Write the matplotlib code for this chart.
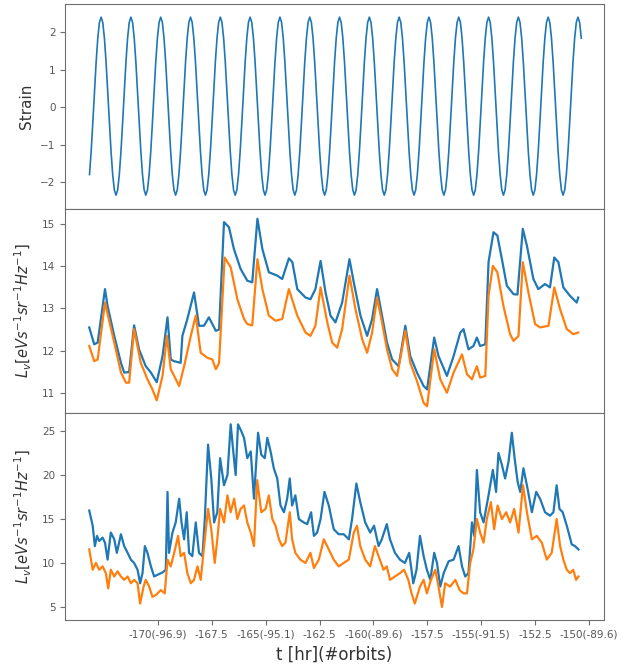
import matplotlib.pyplot as plt
import numpy as np

# strain, sampled every 0.0768 hr starting at t = -173.168
strain = [
    -1.80, -1.18, -0.41, 0.42, 1.2, 1.84, 2.26, 2.4, 2.26, 1.84, 1.2, 0.42, -0.41, -1.18, -1.80, -2.21, -2.35, -2.21,
    -1.80, -1.18, -0.41, 0.42, 1.2, 1.84, 2.26, 2.4, 2.26, 1.84, 1.2, 0.42, -0.41, -1.18, -1.80, -2.21, -2.35, -2.21,
    -1.80, -1.18, -0.41, 0.42, 1.2, 1.84, 2.26, 2.4, 2.26, 1.84, 1.2, 0.42, -0.41, -1.18, -1.80, -2.21, -2.35, -2.21,
    -1.80, -1.18, -0.41, 0.42, 1.2, 1.84, 2.26, 2.4, 2.26, 1.84, 1.2, 0.42, -0.41, -1.18, -1.80, -2.21, -2.35, -2.21,
    -1.80, -1.18, -0.41, 0.42, 1.2, 1.84, 2.26, 2.4, 2.26, 1.84, 1.2, 0.42, -0.41, -1.18, -1.80, -2.21, -2.35, -2.21,
    -1.80, -1.18, -0.41, 0.42, 1.2, 1.84, 2.26, 2.4, 2.26, 1.84, 1.2, 0.42, -0.41, -1.18, -1.80, -2.21, -2.35, -2.21,
    -1.80, -1.18, -0.41, 0.42, 1.2, 1.84, 2.26, 2.4, 2.26, 1.84, 1.2, 0.42, -0.41, -1.18, -1.80, -2.21, -2.35, -2.21,
    -1.80, -1.18, -0.41, 0.42, 1.2, 1.84, 2.26, 2.4, 2.26, 1.84, 1.2, 0.42, -0.41, -1.18, -1.80, -2.21, -2.35, -2.21,
    -1.80, -1.18, -0.41, 0.42, 1.2, 1.84, 2.26, 2.4, 2.26, 1.84, 1.2, 0.42, -0.41, -1.18, -1.80, -2.21, -2.35, -2.21,
    -1.80, -1.18, -0.41, 0.42, 1.2, 1.84, 2.26, 2.4, 2.26, 1.84, 1.2, 0.42, -0.41, -1.18, -1.80, -2.21, -2.35, -2.21,
    -1.80, -1.18, -0.41, 0.42, 1.2, 1.84, 2.26, 2.4, 2.26, 1.84, 1.2, 0.42, -0.41, -1.18, -1.80, -2.21, -2.35, -2.21,
    -1.80, -1.18, -0.41, 0.42, 1.2, 1.84, 2.26, 2.4, 2.26, 1.84, 1.2, 0.42, -0.41, -1.18, -1.80, -2.21, -2.35, -2.21,
    -1.80, -1.18, -0.41, 0.42, 1.2, 1.84, 2.26, 2.4, 2.26, 1.84, 1.2, 0.42, -0.41, -1.18, -1.80, -2.21, -2.35, -2.21,
    -1.80, -1.18, -0.41, 0.42, 1.2, 1.84, 2.26, 2.4, 2.26, 1.84, 1.2, 0.42, -0.41, -1.18, -1.80, -2.21, -2.35, -2.21,
    -1.80, -1.18, -0.41, 0.42, 1.2, 1.84, 2.26, 2.4, 2.26, 1.84, 1.2, 0.42, -0.41, -1.18, -1.80, -2.21, -2.35, -2.21,
    -1.80, -1.18, -0.41, 0.42, 1.2, 1.84, 2.26, 2.4, 2.26, 1.84, 1.2, 0.42, -0.41, -1.18, -1.80, -2.21, -2.35, -2.21,
    -1.80, -1.18, -0.41, 0.42, 1.2, 1.84, 2.26, 2.4, 2.26, 1.84,
]
strain_t0 = -173.168
strain_dt = 0.0768

# middle panel, blue
t_mid_blue = [
    -173.18, -172.95, -172.79, -172.45, -172.33, -172.02, -171.71, -171.56, -171.33, -171.10,
    -170.87, -170.56, -170.32, -170.05, -169.78, -169.55, -169.40, -169.25, -168.94, -168.86,
    -168.63, -168.32, -168.09, -167.86, -167.63, -167.31, -167.16, -166.93, -166.70, -166.47,
    -166.16, -165.85, -165.62, -165.38, -165.15, -164.85, -164.46, -164.23, -163.92, -163.76,
    -163.53, -163.15, -162.92, -162.69, -162.45, -162.22, -161.99, -161.76, -161.45, -161.11,
    -160.91, -160.60, -160.29, -160.06, -159.83, -159.60, -159.37, -159.13, -158.83, -158.52,
    -158.29, -157.98, -157.67, -157.51, -157.18, -156.98, -156.59, -156.28, -155.97, -155.82,
    -155.59, -155.36, -155.20, -155.05, -154.81, -154.66, -154.43, -154.25, -154.04, -153.81,
    -153.50, -153.32, -153.07, -152.88, -152.58, -152.35, -152.04, -151.81, -151.61, -151.42,
    -151.19, -150.88, -150.57, -150.50,
]
L_mid_blue = [
    12.55, 12.15, 12.19, 13.46, 13.06, 12.35, 11.71, 11.48, 11.49, 12.60,
    12.03, 11.63, 11.48, 11.25, 11.87, 12.79, 11.79, 11.75, 11.71, 12.35,
    12.75, 13.38, 12.59, 12.59, 12.79, 12.47, 12.50, 15.05, 14.93, 14.41,
    13.94, 13.66, 13.62, 15.13, 14.41, 13.86, 13.78, 13.70, 14.19, 14.10,
    13.46, 13.26, 13.22, 13.46, 14.13, 13.38, 12.83, 12.67, 13.14, 14.17,
    13.62, 12.83, 12.35, 12.75, 13.46, 12.83, 12.19, 11.79, 11.63, 12.59,
    11.87, 11.48, 11.16, 11.08, 12.31, 11.87, 11.40, 11.87, 12.43, 12.51,
    12.03, 12.11, 12.31, 12.11, 12.15, 14.10, 14.81, 14.73, 14.17, 13.54,
    13.34, 13.33, 14.89, 14.49, 13.70, 13.46, 13.58, 13.50, 14.21, 14.10,
    13.50, 13.30, 13.14, 13.26,
]

# middle panel, orange
t_mid_orange = [
    -173.18, -172.95, -172.79, -172.45, -172.02, -171.71, -171.48, -171.33, -171.10, -170.79,
    -170.48, -170.25, -170.05, -169.78, -169.58, -169.40, -169.01, -168.78, -168.47, -168.24,
    -168.01, -167.70, -167.47, -167.31, -167.16, -166.90, -166.62, -166.31, -166.00, -165.85,
    -165.62, -165.38, -165.15, -164.85, -164.54, -164.23, -163.92, -163.53, -163.15, -162.92,
    -162.69, -162.45, -162.14, -161.91, -161.68, -161.45, -161.11, -160.83, -160.52, -160.29,
    -160.06, -159.83, -159.60, -159.37, -159.13, -158.90, -158.52, -158.29, -157.98, -157.67,
    -157.51, -157.18, -156.90, -156.59, -156.28, -155.89, -155.66, -155.43, -155.20, -155.05,
    -154.81, -154.66, -154.46, -154.25, -153.97, -153.66, -153.50, -153.27, -153.07, -152.81,
    -152.50, -152.27, -151.88, -151.61, -151.34, -151.03, -150.73, -150.50,
]
L_mid_orange = [
    12.11, 11.75, 11.79, 13.14, 12.19, 11.48, 11.24, 11.24, 12.51, 11.71,
    11.32, 11.08, 10.82, 11.40, 12.35, 11.56, 11.16, 11.63, 12.35, 12.83,
    11.95, 11.83, 11.79, 11.56, 11.70, 14.21, 13.98, 13.22, 12.75, 12.63,
    12.60, 14.17, 13.46, 12.83, 12.71, 12.75, 13.46, 12.83, 12.43, 12.35,
    12.59, 13.50, 12.67, 12.19, 12.07, 12.51, 13.78, 12.98, 12.27, 11.95,
    12.43, 13.26, 12.67, 12.03, 11.56, 11.40, 12.47, 11.71, 11.28, 10.76,
    10.68, 12.03, 11.32, 11.00, 11.48, 11.91, 11.44, 11.32, 11.63, 11.36,
    11.40, 13.30, 14.01, 13.86, 13.06, 12.39, 12.23, 12.35, 14.10, 13.38,
    12.63, 12.55, 12.59, 13.50, 12.98, 12.51, 12.39, 12.43,
]

# bottom panel, blue
t_bot_blue = [
    -173.18, -173.02, -172.92, -172.82, -172.72, -172.56, -172.45, -172.33, -172.18, -172.02,
    -171.90, -171.71, -171.56, -171.40, -171.25, -171.10, -170.94, -170.82, -170.71, -170.60,
    -170.48, -170.32, -170.17, -170.02, -169.78, -169.63, -169.55, -169.48, -169.32, -169.17,
    -169.01, -168.90, -168.78, -168.66, -168.55, -168.40, -168.24, -168.09, -167.93, -167.82,
    -167.67, -167.52, -167.39, -167.24, -167.11, -166.93, -166.77, -166.62, -166.50, -166.39,
    -166.28, -166.13, -166.00, -165.85, -165.69, -165.54, -165.35, -165.20, -165.04, -164.92,
    -164.77, -164.62, -164.46, -164.31, -164.15, -164.00, -163.88, -163.77, -163.62, -163.46,
    -163.23, -163.07, -162.89, -162.76, -162.61, -162.45, -162.27, -162.07, -161.84, -161.61,
    -161.38, -161.14, -160.99, -160.79, -160.61, -160.38, -160.15, -159.97, -159.76, -159.61,
    -159.38, -159.23, -159.00, -158.77, -158.54, -158.34, -158.15, -158.00, -157.84, -157.67,
    -157.52, -157.36, -157.18, -157.05, -156.90, -156.74, -156.51, -156.28, -156.05, -155.89,
    -155.74, -155.59, -155.43, -155.32, -155.20, -155.05, -154.89, -154.66, -154.46, -154.31,
    -154.20, -154.04, -153.89, -153.73, -153.58, -153.45, -153.31, -153.19, -153.04, -152.85,
    -152.65, -152.45, -152.27, -152.04, -151.81, -151.65, -151.50, -151.37, -151.22, -151.03,
    -150.80, -150.65, -150.49,
]
L_bot_blue = [
    16.00, 14.27, 11.96, 13.12, 12.54, 12.92, 12.35, 10.42, 13.50, 12.73,
    11.19, 13.31, 11.96, 11.19, 10.42, 10.04, 9.27, 7.73, 8.88, 11.96,
    11.19, 9.65, 8.50, 8.69, 8.96, 9.27, 18.12, 11.19, 13.50, 14.65,
    17.35, 14.65, 12.73, 15.81, 11.19, 10.81, 14.65, 11.19, 10.81, 15.04,
    23.50, 19.65, 14.65, 15.81, 21.96, 18.88, 20.04, 25.81, 22.73, 20.04,
    25.81, 25.04, 24.27, 21.96, 22.73, 17.35, 24.85, 22.35, 21.96, 24.27,
    22.73, 20.81, 19.65, 16.58, 15.81, 17.35, 19.65, 16.58, 17.73, 15.04,
    14.65, 14.46, 15.81, 13.12, 13.50, 15.04, 18.12, 16.58, 13.88, 13.31,
    13.31, 12.73, 15.04, 19.08, 16.96, 14.65, 13.50, 14.27, 11.96, 12.73,
    14.46, 12.73, 11.19, 10.42, 10.04, 11.19, 7.73, 9.27, 13.12, 10.81,
    9.27, 8.12, 11.19, 10.04, 7.35, 8.88, 10.23, 10.42, 11.96, 9.65,
    8.50, 8.88, 14.65, 13.12, 20.62, 15.81, 14.65, 17.73, 20.62, 18.12,
    22.54, 21.19, 19.65, 21.58, 24.85, 21.96, 19.27, 18.12, 20.81, 18.50,
    15.81, 18.12, 17.35, 15.81, 15.42, 15.81, 18.88, 16.19, 15.81, 14.27,
    12.15, 11.96, 11.58,
]

# bottom panel, orange
t_bot_orange = [
    -173.18, -173.02, -172.87, -172.72, -172.56, -172.41, -172.30, -172.18, -172.02, -171.87,
    -171.71, -171.56, -171.40, -171.25, -171.10, -170.94, -170.82, -170.66, -170.56, -170.40,
    -170.25, -170.09, -169.86, -169.68, -169.55, -169.40, -169.24, -169.06, -168.94, -168.78,
    -168.63, -168.47, -168.32, -168.16, -168.01, -167.82, -167.67, -167.52, -167.36, -167.24,
    -167.11, -166.93, -166.77, -166.62, -166.46, -166.31, -166.16, -166.00, -165.85, -165.69,
    -165.54, -165.39, -165.20, -165.00, -164.85, -164.69, -164.54, -164.38, -164.23, -164.08,
    -163.88, -163.77, -163.62, -163.39, -163.15, -162.92, -162.76, -162.53, -162.30, -162.07,
    -161.84, -161.61, -161.38, -161.14, -160.91, -160.76, -160.61, -160.38, -160.15, -159.93,
    -159.76, -159.53, -159.38, -159.23, -159.00, -158.77, -158.58, -158.38, -158.23, -158.08,
    -157.84, -157.67, -157.52, -157.33, -157.13, -156.98, -156.82, -156.67, -156.44, -156.20,
    -156.00, -155.82, -155.66, -155.51, -155.36, -155.20, -155.05, -154.89, -154.74, -154.55,
    -154.40, -154.24, -154.04, -153.84, -153.66, -153.47, -153.27, -153.06, -152.88, -152.65,
    -152.42, -152.19, -151.96, -151.73, -151.50, -151.34, -151.19, -151.03, -150.88, -150.73,
    -150.60, -150.49,
]
L_bot_orange = [
    11.58, 9.27, 10.04, 9.27, 9.65, 8.88, 7.15, 9.27, 8.50, 9.08,
    8.50, 8.12, 8.50, 7.73, 8.12, 7.73, 5.42, 7.35, 8.12, 7.35,
    6.19, 6.38, 6.96, 6.58, 10.42, 9.65, 11.19, 13.12, 10.81, 11.19,
    8.88, 7.73, 8.12, 9.65, 8.12, 12.73, 16.19, 13.88, 10.04, 12.73,
    16.19, 14.65, 17.73, 15.81, 17.35, 15.04, 16.19, 16.58, 14.65, 13.50,
    11.96, 19.46, 15.81, 16.19, 17.73, 15.04, 14.27, 12.73, 11.96, 12.35,
    15.81, 12.73, 11.19, 10.42, 10.04, 11.19, 9.46, 10.42, 12.73, 11.58,
    10.42, 9.65, 10.04, 10.42, 13.50, 14.27, 11.96, 10.42, 9.65, 11.96,
    10.81, 9.27, 9.65, 8.12, 8.50, 8.88, 9.27, 8.12, 6.58, 5.42,
    7.35, 8.12, 6.58, 8.12, 9.27, 7.35, 5.04, 7.73, 7.35, 8.12,
    6.96, 6.58, 6.58, 10.04, 11.58, 15.04, 13.50, 12.35, 15.04, 16.96,
    13.88, 16.58, 15.04, 15.81, 14.65, 16.19, 13.50, 18.88, 15.81, 12.73,
    13.12, 12.35, 10.42, 11.19, 15.04, 11.96, 10.42, 9.27, 8.88, 9.27,
    8.12, 8.50,
]

xticks = [-170, -167.5, -165, -162.5, -160, -157.5, -155, -152.5, -150]
xticklabels = ['-170(-96.9)', '-167.5', '-165(-95.1)', '-162.5', '-160(-89.6)',
               '-157.5', '-155(-91.5)', '-152.5', '-150(-89.6)']

blue = '#1f77b4'
orange = '#ff7f0e'
gray = '#6e6e6e'

t_strain = strain_t0 + strain_dt * np.arange(len(strain))

fig = plt.figure(figsize=(6.26, 6.70), dpi=100)
left, width = 0.104, 0.861
ax1 = fig.add_axes([left, 0.688, width, 0.306])
ax2 = fig.add_axes([left, 0.3836, width, 0.3044], sharex=ax1)
ax3 = fig.add_axes([left, 0.0746, width, 0.309], sharex=ax1)

ax1.plot(t_strain, strain, color=blue, lw=1.2)
ax1.set_ylim(-2.72, 2.75)
ax1.set_yticks([-2, -1, 0, 1, 2])
ax1.set_ylabel('Strain', fontsize=11, color='#333333')

ax2.plot(t_mid_blue, L_mid_blue, color=blue, lw=1.6)
ax2.plot(t_mid_orange, L_mid_orange, color=orange, lw=1.6)
ax2.set_ylim(10.52, 15.36)
ax2.set_yticks([11, 12, 13, 14, 15])
ax2.set_ylabel(r'$L_v[eVs^{-1}sr^{-1}Hz^{-1}]$', fontsize=10.5, color='#333333')

ax3.plot(t_bot_blue, L_bot_blue, color=blue, lw=1.6)
ax3.plot(t_bot_orange, L_bot_orange, color=orange, lw=1.6)
ax3.set_ylim(3.55, 27.1)
ax3.set_yticks([5, 10, 15, 20, 25])
ax3.set_ylabel(r'$L_v[eVs^{-1}sr^{-1}Hz^{-1}]$', fontsize=10.5, color='#333333')

ax3.set_xlim(-174.3, -149.3)
ax3.set_xticks(xticks)
ax3.set_xticklabels(xticklabels)
ax3.set_xlabel('t [hr](#orbits)', fontsize=12, color='#333333')

for ax in (ax1, ax2, ax3):
    for sp in ax.spines.values():
        sp.set_color(gray)
    ax.tick_params(labelsize=7.5, colors=gray, labelcolor='#555555', length=3.5)
    ax.yaxis.set_label_coords(-0.058, 0.5)
for ax in (ax1, ax2):
    ax.tick_params(axis='x', bottom=False, labelbottom=False)

fig.savefig('out.png', dpi=100)
